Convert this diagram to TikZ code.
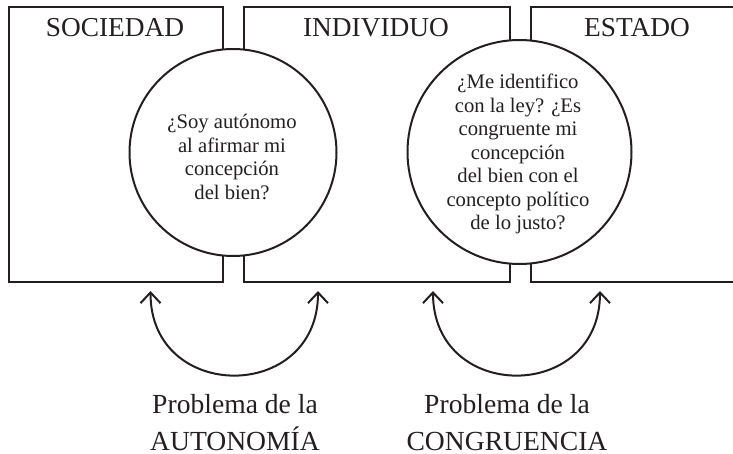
\documentclass[tikz,border=0pt]{standalone}
\usepackage{fontspec}
\setmainfont{Liberation Serif}
\usetikzlibrary{arrows.meta}
\definecolor{ink}{RGB}{35,31,32}
\tikzset{
  frame/.style={draw=ink, line width=1.5pt, rectangle, anchor=north west, inner sep=0pt, minimum height=206.25pt},
  head/.style={anchor=base, inner sep=0pt, text=ink, font=\fontsize{20.5}{24}\selectfont},
  bubble/.style={draw=ink, fill=white, line width=1.5pt, circle, inner sep=0pt},
  qtext/.style={align=center, inner sep=0pt, text=ink, font=\fontsize{15.5}{17.6}\selectfont},
  swing/.style={draw=ink, line width=1.5pt, {Straight Barb[length=8pt,width=15pt]}-{Straight Barb[length=8pt,width=15pt]}},
  caption/.style={anchor=base, inner sep=0pt, text=ink, font=\fontsize{20.7}{24}\selectfont}
}
\begin{document}
\begin{tikzpicture}[x=0.75pt,y=-0.75pt]
\useasboundingbox (0,0) rectangle (733,454);
\clip (0,0) rectangle (733,454);
% boxes
\node[frame, minimum width=160.5pt] (soc) at (8,6) {};
\node[frame, minimum width=199.5pt] (ind) at (243,6) {};
\node[frame, minimum width=165pt] (est) at (530,6) {};
\node[head] (socL) at (115,36) {SOCIEDAD};
\node[head] (indL) at (376,36) {INDIVIDUO};
\node[head] (estL) at (637,36) {ESTADO};
% circles
\node[bubble, minimum size=155.25pt] (c1) at (233,152.5) {};
\node[bubble, minimum size=168pt] (c2) at (519.5,152) {};
\node[qtext] (t1) at (232,157) {¿Soy autónomo\\al afirmar mi\\concepción\\del bien?};
\node[qtext] (t2) at (518,154) {¿Me identifico\\con la ley? ¿Es\\congruente mi\\concepción\\del bien con el\\concepto político\\de lo justo?};
% arrows
\coordinate (a1) at (150.5,291);
\coordinate (a2) at (318,291);
\coordinate (b1) at (433,291);
\coordinate (b2) at (600,291);
\draw[swing] (a1) .. controls (150.5,403) and (318,403) .. (a2);
\draw[swing] (b1) .. controls (433,403) and (600,403) .. (b2);
% captions
\node[caption] (p1a) at (235,413) {Problema de la};
\node[caption] (p1b) at (235,450) {AUTONOMÍA};
\node[caption] (p2a) at (507,413) {Problema de la};
\node[caption] (p2b) at (507,450) {CONGRUENCIA};
\end{tikzpicture}
\end{document}
